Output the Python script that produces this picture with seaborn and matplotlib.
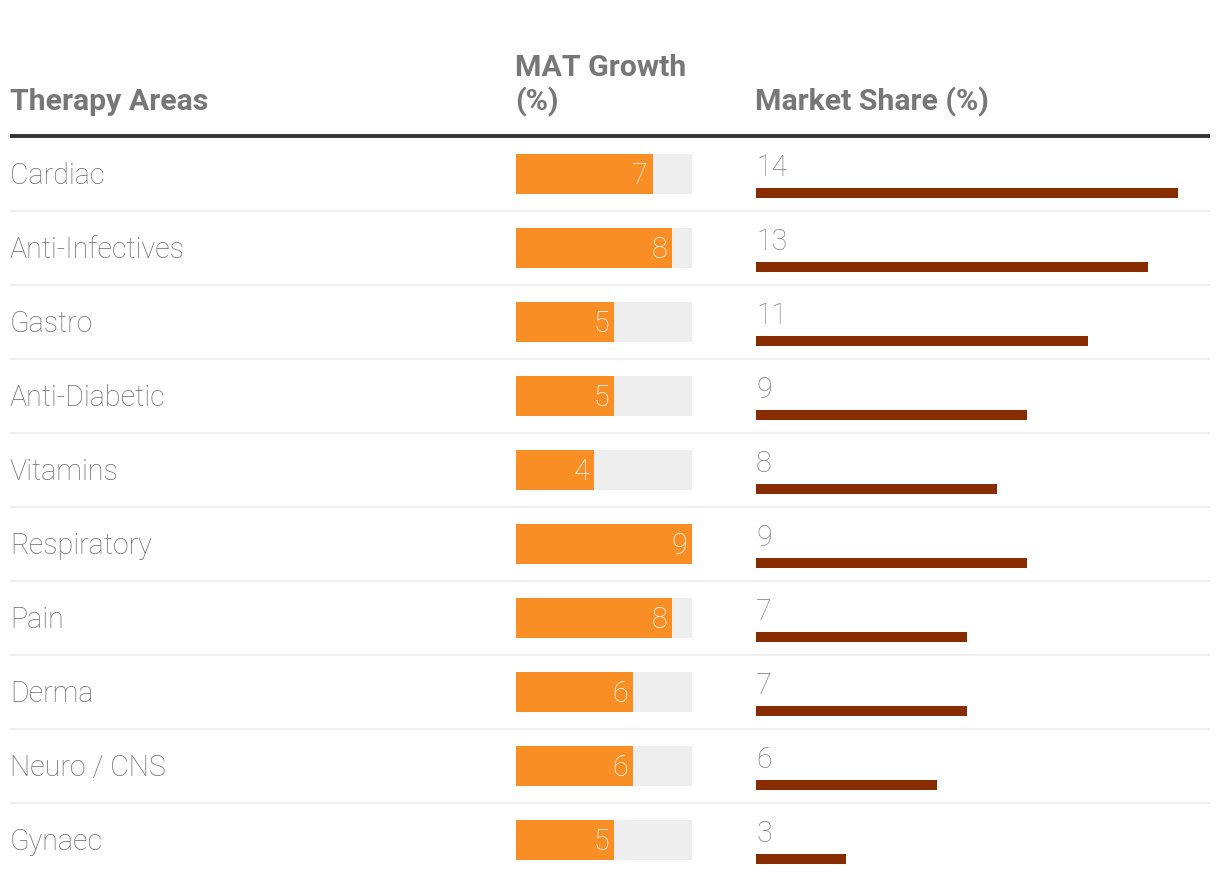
import matplotlib
matplotlib.use("Agg")
import matplotlib.pyplot as plt
import seaborn as sns
import pandas as pd

areas = ["Cardiac", "Anti-Infectives", "Gastro", "Anti-Diabetic", "Vitamins",
         "Respiratory", "Pain", "Derma", "Neuro / CNS", "Gynaec"]
mat_growth = [7, 8, 5, 5, 4, 9, 8, 6, 6, 5]
market_share = [14, 13, 11, 9, 8, 9, 7, 7, 6, 3]
headers = ["Therapy Areas", "MAT Growth\n(%)", "Market Share (%)"]

ORANGE = "#F98E24"
DARKRED = "#872B00"
TRACK = "#EEEEEE"
TXT = "#6E6E6E"
HDR = "#777777"

sns.set_theme(style="white")
plt.rcParams["font.family"] = ["Roboto", "DejaVu Sans"]

W, H = 1220, 886
fig = plt.figure(figsize=(W / 100, H / 100), dpi=100)
fig.patch.set_facecolor("white")


def px_axes(x0, y0, x1, y1):
    return fig.add_axes([x0 / W, 1 - y1 / H, (x1 - x0) / W, (y1 - y0) / H])


ROW_TOP, ROW_H = 137, 74
n = len(areas)
Y_BOT = ROW_TOP + ROW_H * n
df = pd.DataFrame({"area": areas, "mat": mat_growth, "share": market_share,
                   "track": [max(mat_growth)] * n})

# header overlay in pixel coordinates
axH = px_axes(0, 0, W, H)
axH.set_xlim(0, W)
axH.set_ylim(H, 0)
axH.axis("off")
HFS = 21.8
axH.text(10, 110, headers[0], fontsize=HFS, fontweight="bold", color=HDR, va="baseline")
axH.text(515, 110, headers[1], fontsize=HFS, fontweight="bold", color=HDR, va="baseline",
         linespacing=1.2)
axH.text(755, 110, headers[2], fontsize=HFS, fontweight="bold", color=HDR, va="baseline")
axH.plot([10, 1210], [136, 136], color="#333333", lw=2.8, solid_capstyle="butt")

# labels column + separators
axL = px_axes(0, ROW_TOP, W, Y_BOT)
axL.set_xlim(0, W)
axL.set_ylim(n - 0.5, -0.5)
axL.axis("off")
LFS = 20.6
for i, a in enumerate(areas):
    axL.annotate(a, xy=(10, i), xytext=(0, -10), textcoords="offset pixels",
                 fontsize=LFS, fontweight="light", color=TXT, va="baseline", ha="left")
    if i < n - 1:
        axL.plot([10, 1210], [i + 0.5, i + 0.5], color="#EEEEEE", lw=1.6,
                 solid_capstyle="butt")

# MAT growth bars
ax1 = px_axes(516, ROW_TOP, 692, Y_BOT)
sns.barplot(data=df, x="track", y="area", color=TRACK, width=40 / 74, ax=ax1,
            saturation=1, orient="h", linewidth=0)
sns.barplot(data=df, x="mat", y="area", color=ORANGE, width=40 / 74, ax=ax1,
            saturation=1, orient="h", linewidth=0)
ax1.set_xlim(0, max(mat_growth))
ax1.set_ylim(n - 0.5, -0.5)
ax1.axis("off")
for i, v in enumerate(mat_growth):
    ax1.annotate(str(v), xy=(v, i), xytext=(-5, -10), textcoords="offset pixels",
                 fontsize=LFS, fontweight="light", color="white", ha="right", va="baseline")

# market share bars (offset below row center)
d = 19 / 74
ax2 = px_axes(756, ROW_TOP, 1178, Y_BOT)
sns.barplot(data=df, x="share", y="area", color=DARKRED, width=10 / 74, ax=ax2,
            saturation=1, orient="h", linewidth=0)
ax2.set_xlim(0, max(market_share))
ax2.set_ylim(n - 0.5 - d, -0.5 - d)
ax2.axis("off")
for i, v in enumerate(market_share):
    ax2.annotate(str(v), xy=(0, i), xytext=(0, 17), textcoords="offset pixels",
                 fontsize=LFS, fontweight="light", color="#808080", ha="left",
                 va="baseline", annotation_clip=False)

fig.savefig("out.png", dpi=100, facecolor="white")
